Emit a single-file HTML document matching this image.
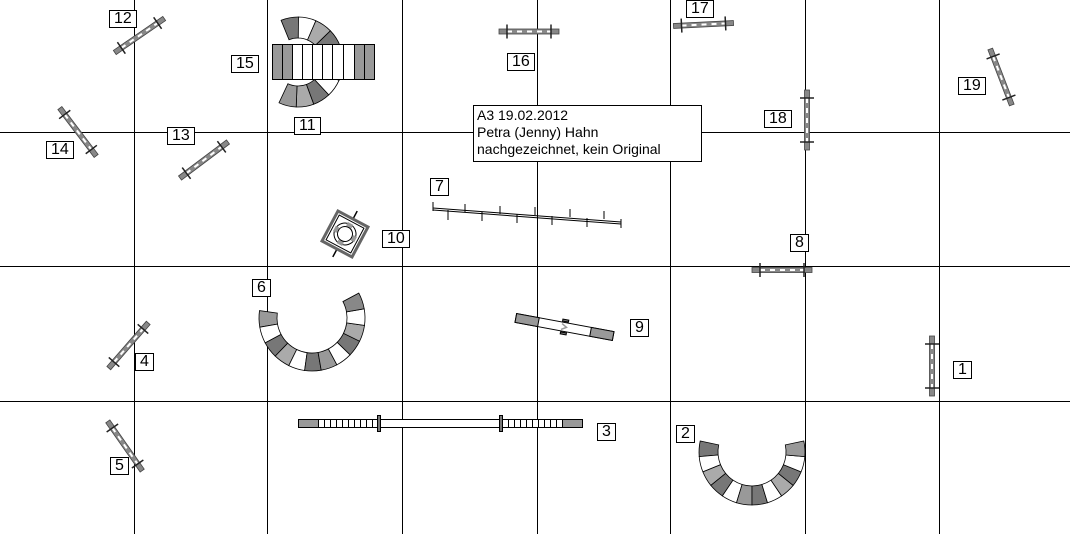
<!DOCTYPE html>
<html><head><meta charset="utf-8"><style>
body{margin:0;background:#fff;width:1070px;height:534px;overflow:hidden;font-family:"Liberation Sans",sans-serif}
svg{position:absolute;left:0;top:0}
.l{position:absolute;border:1px solid #000;background:#fff;font-size:16px;line-height:16px;padding:0 4px;color:#000}
.info{position:absolute;left:473px;top:105px;width:221px;height:53px;border:1px solid #000;background:#fff;font-size:14px;line-height:17px;padding:1px 3px;box-sizing:content-box}
</style></head><body>
<svg id="s" width="1070" height="534" xmlns="http://www.w3.org/2000/svg">
<g stroke="#000" stroke-width="1">
<line x1="134.5" y1="0" x2="134.5" y2="534"/><line x1="267.5" y1="0" x2="267.5" y2="534"/>
<line x1="402.5" y1="0" x2="402.5" y2="534"/><line x1="537.5" y1="0" x2="537.5" y2="534"/>
<line x1="670.5" y1="0" x2="670.5" y2="534"/><line x1="805.5" y1="0" x2="805.5" y2="534"/>
<line x1="939.5" y1="0" x2="939.5" y2="534"/>
<line x1="0" y1="132.5" x2="1070" y2="132.5"/><line x1="0" y1="266.5" x2="1070" y2="266.5"/>
<line x1="0" y1="401.5" x2="1070" y2="401.5"/>
</g>
<defs>
<g id="jump">
<rect x="-30" y="-2.5" width="60" height="5" fill="#888" stroke="#444" stroke-width="0.8"/>
<line x1="-22" y1="0" x2="22" y2="0" stroke="#fff" stroke-width="2" stroke-dasharray="5 5"/>
<line x1="-22" y1="-7" x2="-22" y2="7" stroke="#222" stroke-width="1.5"/>
<line x1="22" y1="-7" x2="22" y2="7" stroke="#222" stroke-width="1.5"/>
</g>
</defs>
<use href="#jump" transform="translate(139.5,35.5) rotate(-34.5)"/>
<use href="#jump" transform="translate(78,132) rotate(52.8)"/>
<use href="#jump" transform="translate(204,160) rotate(-36.9)"/>
<use href="#jump" transform="translate(529,31.5)"/>
<use href="#jump" transform="translate(703.5,24.5) rotate(-2.8)"/>
<use href="#jump" transform="translate(807,120) rotate(90)"/>
<use href="#jump" transform="translate(1001,77) rotate(69)"/>
<use href="#jump" transform="translate(782,270)"/>
<use href="#jump" transform="translate(128.5,345.5) rotate(-48.9)"/>
<use href="#jump" transform="translate(125,446) rotate(55)"/>
<use href="#jump" transform="translate(932,366) rotate(90)"/>
<!-- dogwalk -->
<g stroke="#000" stroke-width="1">
<rect x="298.5" y="419.5" width="284" height="8" fill="#fff"/>
<rect x="298.5" y="419.5" width="20" height="8" fill="#999"/>
<rect x="562.5" y="419.5" width="20" height="8" fill="#999"/>
<path d="M324.5 420v7M330.5 420v7M336.5 420v7M342.5 420v7M348.5 420v7M354.5 420v7M360.5 420v7M366.5 420v7M372.5 420v7M508.5 420v7M514.5 420v7M520.5 420v7M526.5 420v7M532.5 420v7M538.5 420v7M544.5 420v7M550.5 420v7M556.5 420v7"/>
<rect x="377.5" y="415.5" width="3" height="16" fill="#777"/>
<rect x="499.5" y="415.5" width="3" height="16" fill="#777"/>
</g>
<!-- seesaw -->
<g transform="translate(564.5,327) rotate(10.5)" stroke="#000">
<rect x="-49.5" y="-4.5" width="99" height="9" fill="#fff"/>
<rect x="-49.5" y="-4.5" width="23" height="9" fill="#999"/>
<rect x="26.5" y="-4.5" width="23" height="9" fill="#999"/>
<rect x="-3" y="-7.5" width="6" height="2" fill="#777"/><rect x="-3" y="5.5" width="6" height="2" fill="#777"/>
<path d="M-3 -3 L2 0 L-3 3" fill="none" stroke="#999" stroke-width="1.5"/>
</g>
<!-- weave -->
<g stroke="#000" stroke-width="1" fill="none">
<path d="M433 208 L621 222"/><path d="M433 210 L621 224"/>
<path d="M433 202v9M448 210v10M465 204v8M482 212v9M500 206v8M517 214v9M535 207v8M552 216v9M570 209v8M587 218v9M604 211v8M621 219v9"/>
</g>
<!-- tire -->
<g transform="translate(345,234) rotate(28)" stroke="#000" fill="none">
<line x1="0" y1="-26" x2="0" y2="26" stroke-width="1.5"/>
<rect x="-17" y="-17" width="34" height="34" fill="#fff" stroke="#666" stroke-width="3"/>
<rect x="-14" y="-14" width="28" height="28" stroke-width="1"/>
<circle r="11" fill="#fff"/><circle r="7.5"/>
<rect x="-3" y="-12" width="6" height="4" fill="#999" stroke="none"/><rect x="-3" y="8" width="6" height="4" fill="#999" stroke="none"/>
<rect x="-12" y="-3" width="4" height="6" fill="#999" stroke="none"/><rect x="8" y="-3" width="4" height="6" fill="#999" stroke="none"/>
</g>
<g id="tun"></g>
<!-- straight tunnel 15 -->
<g stroke="#000" stroke-width="1">
<rect x="272.5" y="44.5" width="102" height="35" fill="#fff"/>
<rect x="272.5" y="44.5" width="10" height="35" fill="#999"/>
<rect x="282.5" y="44.5" width="10" height="35" fill="#999"/>
<rect x="354.5" y="44.5" width="10" height="35" fill="#999"/>
<rect x="364.5" y="44.5" width="10" height="35" fill="#999"/>
<path d="M302.5 45v34M312.5 45v34M322.5 45v34M332.5 45v34M343.5 45v34"/>
</g>
</svg>
<div class="l" style="left:109px;top:10px">12</div>
<div class="l" style="left:231px;top:55px">15</div>
<div class="l" style="left:294px;top:117px">11</div>
<div class="l" style="left:507px;top:53px">16</div>
<div class="l" style="left:686px;top:0px">17</div>
<div class="l" style="left:764px;top:110px">18</div>
<div class="l" style="left:958px;top:77px">19</div>
<div class="l" style="left:46px;top:141px">14</div>
<div class="l" style="left:167px;top:127px">13</div>
<div class="l" style="left:430px;top:178px">7</div>
<div class="l" style="left:382px;top:230px">10</div>
<div class="l" style="left:790px;top:234px">8</div>
<div class="l" style="left:252px;top:279px">6</div>
<div class="l" style="left:135px;top:353px">4</div>
<div class="l" style="left:630px;top:319px">9</div>
<div class="l" style="left:953px;top:361px">1</div>
<div class="l" style="left:597px;top:423px">3</div>
<div class="l" style="left:676px;top:425px">2</div>
<div class="l" style="left:110px;top:457px">5</div>
<div class="info">A3 19.02.2012<br>Petra (Jenny) Hahn<br>nachgezeichnet, kein Original</div>
<script>
var g=document.getElementById('tun'),NS="http://www.w3.org/2000/svg";
function tunnel(cx,cy,ri,ro,a0,a1,n,cols){
 for(var i=0;i<n;i++){
  var t0=(a0+(a1-a0)*i/n)*Math.PI/180,t1=(a0+(a1-a0)*(i+1)/n)*Math.PI/180;
  var p=function(r,t){return (cx+r*Math.cos(t)).toFixed(1)+" "+(cy+r*Math.sin(t)).toFixed(1)};
  var sw=(a1>a0)?1:0;
  var d="M"+p(ro,t0)+"A"+ro+" "+ro+" 0 0 "+sw+" "+p(ro,t1)+"L"+p(ri,t1)+"A"+ri+" "+ri+" 0 0 "+(1-sw)+" "+p(ri,t0)+"Z";
  var e=document.createElementNS(NS,"path");e.setAttribute("d",d);
  e.setAttribute("fill",cols[i%cols.length]);e.setAttribute("stroke","#000");e.setAttribute("stroke-width","0.8");g.appendChild(e);
 }
}
tunnel(312,318,35,53,188,-28,12,["#999","#fff","#777","#aaa","#fff","#777","#999","#fff","#777","#aaa","#fff","#888"]);
tunnel(752,452,34,53,192,-12,12,["#777","#fff","#aaa","#777","#fff","#999","#777","#fff","#aaa","#777","#fff","#999"]);
tunnel(298,62,24,45,-112,115,10,["#777","#fff","#aaa","#777","#fff","#fff","#fff","#777","#aaa","#999"]);
</script>
</body></html>
